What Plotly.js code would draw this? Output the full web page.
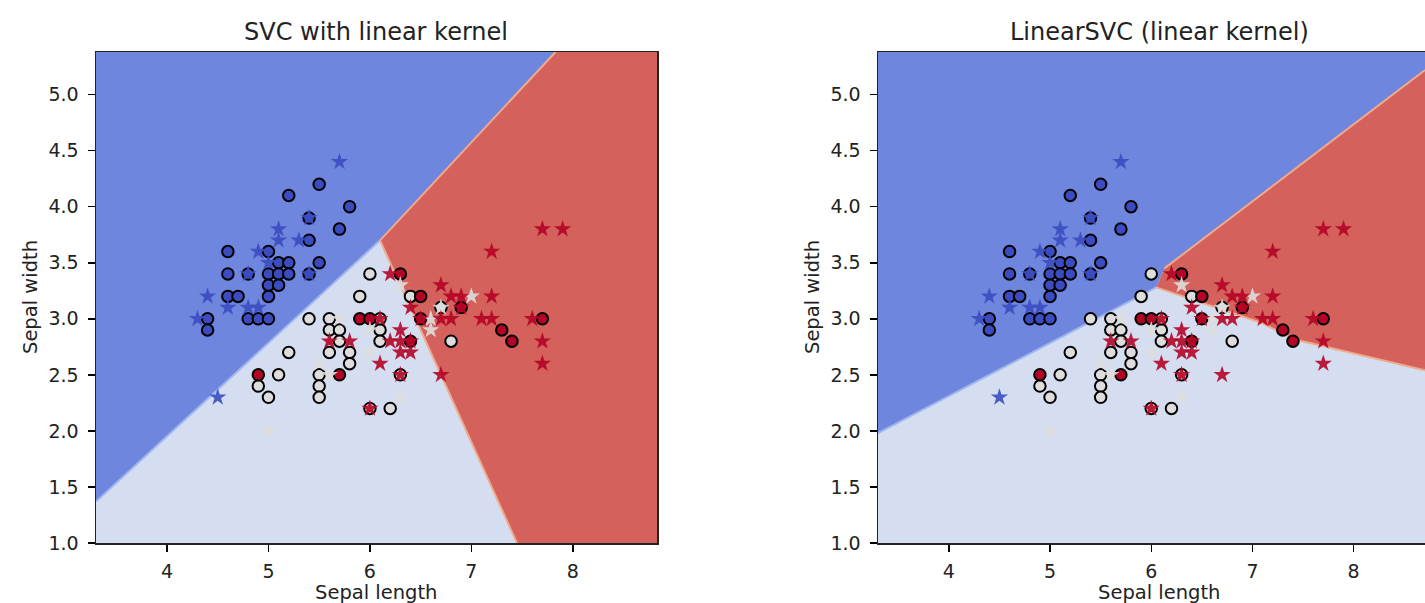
<!DOCTYPE html>
<html>
<head>
<meta charset="utf-8">
<script src="https://cdn.plot.ly/plotly-3.0.1.min.js"></script>
<style>html,body{margin:0;padding:0;background:#fff;}#chart{width:1425px;height:603px;}</style>
</head>
<body>
<div id="chart"></div>
<script>
// ---------- data ----------
const titles = ["SVC with linear kernel", "LinearSVC (linear kernel)"];
const xLabel = "Sepal length";
const yLabel = "Sepal width";
const xTicks = [4, 5, 6, 7, 8];
const yTicks = [1.0, 1.5, 2.0, 2.5, 3.0, 3.5, 4.0, 4.5, 5.0];
const yTickText = ["1.0", "1.5", "2.0", "2.5", "3.0", "3.5", "4.0", "4.5", "5.0"];

// training points (circles), by class
const train0X = [5.5,5.2,5.8,5.4,5.7,5.4,4.6,5.0,5.1,5.2,5.5,4.6,4.8,5.0,5.1,5.2,5.4,5.0,5.1,4.6,4.7,5.0,4.4,4.8,4.9,5.0,4.4];
const train0Y = [4.2,4.1,4.0,3.9,3.8,3.7,3.6,3.6,3.5,3.5,3.5,3.4,3.4,3.4,3.4,3.4,3.4,3.3,3.3,3.2,3.2,3.2,3.0,3.0,3.0,3.0,2.9];
const train1X = [6.0,5.9,5.4,5.6,5.6,5.7,6.1,5.7,6.1,6.8,5.6,5.8,5.2,5.8,5.5,5.1,4.9,5.5,5.0,5.5,6.2,6.4,6.0,6.3,6.1,6.7];
const train1Y = [3.4,3.2,3.0,3.0,2.9,2.9,2.9,2.8,2.8,2.8,2.7,2.7,2.7,2.6,2.5,2.5,2.4,2.4,2.3,2.3,2.2,3.2,2.2,2.5,3.0,3.1];
const train2X = [6.3,6.5,6.9,5.9,6.0,6.5,7.7,7.3,7.4,6.4,5.7,4.9];
const train2Y = [3.4,3.2,3.1,3.0,3.0,3.0,3.0,2.9,2.8,2.8,2.5,2.5];

// test points (stars), by class
const test0X = [5.7,5.4,5.1,5.1,5.3,4.9,5.0,4.8,5.4,4.4,4.6,4.8,4.9,4.3,4.5];
const test0Y = [4.4,3.9,3.8,3.7,3.7,3.6,3.5,3.4,3.4,3.2,3.1,3.1,3.1,3.0,2.3];
const test1X = [6.3,7.0,6.7,6.6,6.6,5.7,6.0,6.0,5.5,5.6,6.3,5.0];
const test1Y = [3.3,3.2,3.1,3.0,2.9,3.0,2.9,2.7,2.6,2.5,2.3,2.0];
const test2X = [7.9,7.7,7.2,6.2,6.7,6.8,6.9,7.2,6.4,6.9,6.1,6.7,6.8,7.1,7.2,7.6,6.3,5.6,5.8,6.2,6.3,6.4,7.7,6.3,6.4,6.1,7.7,6.3,6.7,6.0,6.5];
const test2Y = [3.8,3.8,3.6,3.4,3.3,3.2,3.2,3.2,3.1,3.1,3.0,3.0,3.0,3.0,3.0,3.0,2.9,2.8,2.8,2.8,2.8,2.8,2.8,2.7,2.7,2.6,2.6,2.5,2.5,2.2,3.0];

// decision-region outlines (data units)
// left panel: SVC
const svcBlueX  = [3.3, 7.83, 6.1, 3.3];
const svcBlueY  = [5.38, 5.38, 3.7, 1.37];
const svcLightX = [3.3, 6.1, 7.45, 3.3];
const svcLightY = [1.37, 3.7, 1.0, 1.0];
const svcRedX   = [7.83, 8.83, 8.83, 7.45, 6.1];
const svcRedY   = [5.38, 5.38, 1.0, 1.0, 3.7];
// right panel: LinearSVC
const linBlueX  = [3.3, 8.705, 8.705, 6.13, 6.05, 3.3];
const linBlueY  = [5.38, 5.38, 5.22, 3.45, 3.28, 1.98];
const linLightX = [3.3, 6.05, 7.1, 7.4, 8.705, 8.705, 3.3];
const linLightY = [1.98, 3.28, 2.96, 2.82, 2.54, 1.0, 1.0];
const linRedX   = [6.05, 6.13, 8.705, 8.705, 7.4, 7.1];
const linRedY   = [3.28, 3.45, 5.22, 2.54, 2.82, 2.96];

// ---------- styling ----------
const W = 1425, H = 603;
const C0 = "#3b4cc0", C1 = "#dddddd", C2 = "#b40426";
const REG0 = "rgb(111,134,222)", REG1 = "rgb(213,222,240)", REG2 = "rgb(212,97,91)";
const EDGE_BLUE = "rgb(160,182,240)", EDGE_RED = "rgb(240,170,140)";
const FONT = "DejaVu Sans, Liberation Sans, sans-serif";

function region(x, y, color, xa, ya) {
  return {x: x, y: y, xaxis: xa, yaxis: ya, type: "scatter", mode: "lines",
          fill: "toself", fillcolor: color, line: {width: 0, color: color},
          hoverinfo: "skip", showlegend: false};
}
function edge(x, y, color, xa, ya) {
  return {x: x, y: y, xaxis: xa, yaxis: ya, type: "scatter", mode: "lines",
          line: {width: 2, color: color}, hoverinfo: "skip", showlegend: false};
}
function circles(x, y, color, xa, ya) {
  return {x: x, y: y, xaxis: xa, yaxis: ya, type: "scatter", mode: "markers",
          marker: {symbol: "circle", size: 11.5, color: color, line: {color: "#000", width: 2}},
          showlegend: false, cliponaxis: true};
}
function stars(x, y, color, xa, ya) {
  return {x: x, y: y, xaxis: xa, yaxis: ya, type: "scatter", mode: "markers",
          marker: {symbol: "star", size: 13, color: color, opacity: 0.9, line: {width: 0}},
          showlegend: false, cliponaxis: true};
}

const traces = [];
[["x", "y"], ["x2", "y2"]].forEach(function (ax, i) {
  const xa = ax[0], ya = ax[1];
  if (i === 0) {
    traces.push(region(svcBlueX, svcBlueY, REG0, xa, ya));
    traces.push(region(svcLightX, svcLightY, REG1, xa, ya));
    traces.push(region(svcRedX, svcRedY, REG2, xa, ya));
    traces.push(edge(svcLightX.slice(0, 2), svcLightY.slice(0, 2), EDGE_BLUE, xa, ya));
    traces.push(edge([svcRedX[0], svcRedX[4], svcRedX[3]], [svcRedY[0], svcRedY[4], svcRedY[3]], EDGE_RED, xa, ya));
  } else {
    traces.push(region(linBlueX, linBlueY, REG0, xa, ya));
    traces.push(region(linLightX, linLightY, REG1, xa, ya));
    traces.push(region(linRedX, linRedY, REG2, xa, ya));
    traces.push(edge(linLightX.slice(0, 2), linLightY.slice(0, 2), EDGE_BLUE, xa, ya));
    traces.push(edge(linRedX.slice(1, 3), linRedY.slice(1, 3), EDGE_RED, xa, ya));
    traces.push(edge([linRedX[0]].concat(linRedX.slice(5).reverse()).concat([linRedX[4], linRedX[3]]),
                     [linRedY[0]].concat(linRedY.slice(5).reverse()).concat([linRedY[4], linRedY[3]]), EDGE_RED, xa, ya));
  }
  traces.push(circles(train0X, train0Y, C0, xa, ya));
  traces.push(circles(train1X, train1Y, C1, xa, ya));
  traces.push(circles(train2X, train2Y, C2, xa, ya));
  traces.push(stars(test0X, test0Y, C0, xa, ya));
  traces.push(stars(test1X, test1Y, C1, xa, ya));
  traces.push(stars(test2X, test2Y, C2, xa, ya));
});

function xAxis(domain, range, mirror) {
  return {domain: domain, range: range, tickvals: xTicks, ticktext: xTicks.map(String),
          ticks: "outside", ticklen: 7, tickwidth: 1.5, tickcolor: "#000",
          showline: true, linecolor: "#222", linewidth: 1.5, mirror: mirror,
          showgrid: false, zeroline: false, fixedrange: true,
          tickfont: {family: FONT, size: 19, color: "#222"}, ticklabelstandoff: 4};
}
function yAxis(anchor, mirror) {
  return {domain: [60 / H, 1 - 52 / H], range: [1.0, 5.38], anchor: anchor,
          tickvals: yTicks, ticktext: yTickText,
          ticks: "outside", ticklen: 7, tickwidth: 1.5, tickcolor: "#000",
          showline: true, linecolor: "#222", linewidth: 1.5, mirror: mirror,
          showgrid: false, zeroline: false, fixedrange: true,
          tickfont: {family: FONT, size: 19, color: "#222"}, ticklabelstandoff: 5};
}

const leftL = 96, leftR = 657, rightL = 878;
const layout = {
  width: W, height: H,
  margin: {l: 0, r: 0, t: 0, b: 0},
  paper_bgcolor: "#fff", plot_bgcolor: "#fff",
  showlegend: false,
  xaxis: Object.assign(xAxis([leftL / W, leftR / W], [3.3, 8.83], true), {anchor: "y"}),
  yaxis: yAxis("x", true),
  xaxis2: Object.assign(xAxis([rightL / W, 1], [3.3, 8.705], true), {anchor: "y2"}),
  yaxis2: yAxis("x2", false),
  annotations: [
    {text: titles[0], x: 376.5 / W, y: 1 - 32 / H},
    {text: titles[1], x: 1159 / W, y: 1 - 32 / H},
    {text: xLabel, x: 376.5 / W, y: 1 - 592 / H, size: 19.5},
    {text: xLabel, x: 1159 / W, y: 1 - 592 / H, size: 19.5},
    {text: yLabel, x: 30 / W, y: 1 - 297 / H, size: 19.5, textangle: -90},
    {text: yLabel, x: 812 / W, y: 1 - 297 / H, size: 19.5, textangle: -90}
  ].map(function (a) {
    return {text: a.text, x: a.x, y: a.y, xref: "paper", yref: "paper",
            xanchor: "center", yanchor: "middle", showarrow: false,
            textangle: a.textangle || 0,
            font: {family: FONT, size: a.size || 24, color: "#222"}};
  })
};

Plotly.newPlot("chart", traces, layout, {staticPlot: true, displayModeBar: false});
</script>
</body>
</html>
